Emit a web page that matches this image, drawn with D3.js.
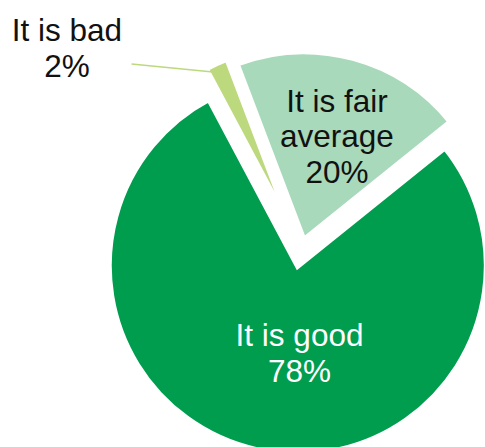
<!DOCTYPE html>
<html>
<head>
<meta charset="utf-8">
<script src="https://cdn.jsdelivr.net/npm/d3@7/dist/d3.min.js"></script>
<style>
  html, body { margin: 0; padding: 0; background: #ffffff; }
  svg { display: block; }
  text { font-family: "Liberation Sans", Arial, sans-serif; }
</style>
</head>
<body>
<svg id="chart" width="485" height="447"></svg>
<script>
// Survey answers, clockwise from the upper left
const categories = ["It is bad", "It is fair average", "It is good"];
const values = [2, 20, 78];
const labelLines = [["It is bad", "2%"], ["It is fair", "average", "20%"], ["It is good", "78%"]];
const colors = ["#bdd97e", "#a8d9ba", "#009d4f"];

const width = 485, height = 447;
const cx = 301, cy = 250, radius = 189;
const startDeg = -28;
const gapStroke = 6;

// how far each slice is pulled out of the pie, and where its label sits
const layout = {
  "It is bad":          { explode: 16, textColor: "#111111", labelDx: -150.6, labelDy: -25, leaderDx: -86, leaderDy: -2 },
  "It is fair average": { explode: 10, labelR: 0.572, dx: 5,  textColor: "#111111" },
  "It is good":         { explode: 16, labelR: 0.47,  dx: 19.6, textColor: "#ffffff" }
};

const fontSize = 31.5, lineH = 35.5, capH = 0.716 * fontSize;

const data = categories.map((c, i) => ({ category: c, value: values[i], lines: labelLines[i], color: colors[i] }));

const pie = d3.pie()
  .sort(null)
  .value(d => d.value)
  .startAngle(startDeg * Math.PI / 180)
  .endAngle(startDeg * Math.PI / 180 + 2 * Math.PI);

const arc = d3.arc().innerRadius(0).outerRadius(radius);
const arcs = pie(data);

const svg = d3.select("#chart");
const g = svg.append("g").attr("transform", `translate(${cx},${cy})`);

// unit vector pointing from the centre through the middle of a slice
function midDir(a) {
  const m = (a.startAngle + a.endAngle) / 2;
  return [Math.sin(m), -Math.cos(m)];
}
function offsetOf(a) {
  const [ux, uy] = midDir(a);
  const e = layout[a.data.category].explode;
  return [ux * e, uy * e];
}

const slices = g.selectAll("g.slice")
  .data(arcs)
  .join("g")
  .attr("class", "slice")
  .attr("transform", d => { const [ox, oy] = offsetOf(d); return `translate(${ox},${oy})`; });

slices.append("path")
  .attr("d", arc)
  .attr("fill", d => d.data.color)
  .attr("stroke", "#ffffff")
  .attr("stroke-width", gapStroke)
  .attr("stroke-linejoin", "miter");

// inside labels
slices.filter(d => layout[d.data.category].labelR !== undefined)
  .each(function(d) {
    const L = layout[d.data.category];
    const [ux, uy] = midDir(d);
    const x = ux * radius * L.labelR + L.dx;
    const yc = uy * radius * L.labelR;
    const n = d.data.lines.length;
    const y0 = yc - (n - 1) * lineH / 2 + capH / 2;
    const t = d3.select(this).append("text")
      .attr("text-anchor", "middle")
      .attr("font-size", fontSize)
      .attr("fill", L.textColor);
    d.data.lines.forEach((line, i) => {
      t.append("tspan").attr("x", x).attr("y", y0 + i * lineH).text(line);
    });
  });

// outside label with a leader line for the thin slice
slices.filter(d => layout[d.data.category].labelR === undefined)
  .each(function(d) {
    const L = layout[d.data.category];
    const [ux, uy] = midDir(d);
    const edge = radius - gapStroke / 2;
    const ex = ux * edge, ey = uy * edge;
    const sel = d3.select(this);
    sel.append("line")
      .attr("x1", ux * edge * 0.96).attr("y1", uy * edge * 0.96)
      .attr("x2", ex + L.leaderDx).attr("y2", ey + L.leaderDy)
      .attr("stroke", d.data.color)
      .attr("stroke-width", 1.6);
    const t = sel.append("text")
      .attr("text-anchor", "middle")
      .attr("font-size", fontSize)
      .attr("fill", L.textColor);
    d.data.lines.forEach((line, i) => {
      t.append("tspan").attr("x", ex + L.labelDx).attr("y", ey + L.labelDy + i * lineH).text(line);
    });
  });
</script>
</body>
</html>
